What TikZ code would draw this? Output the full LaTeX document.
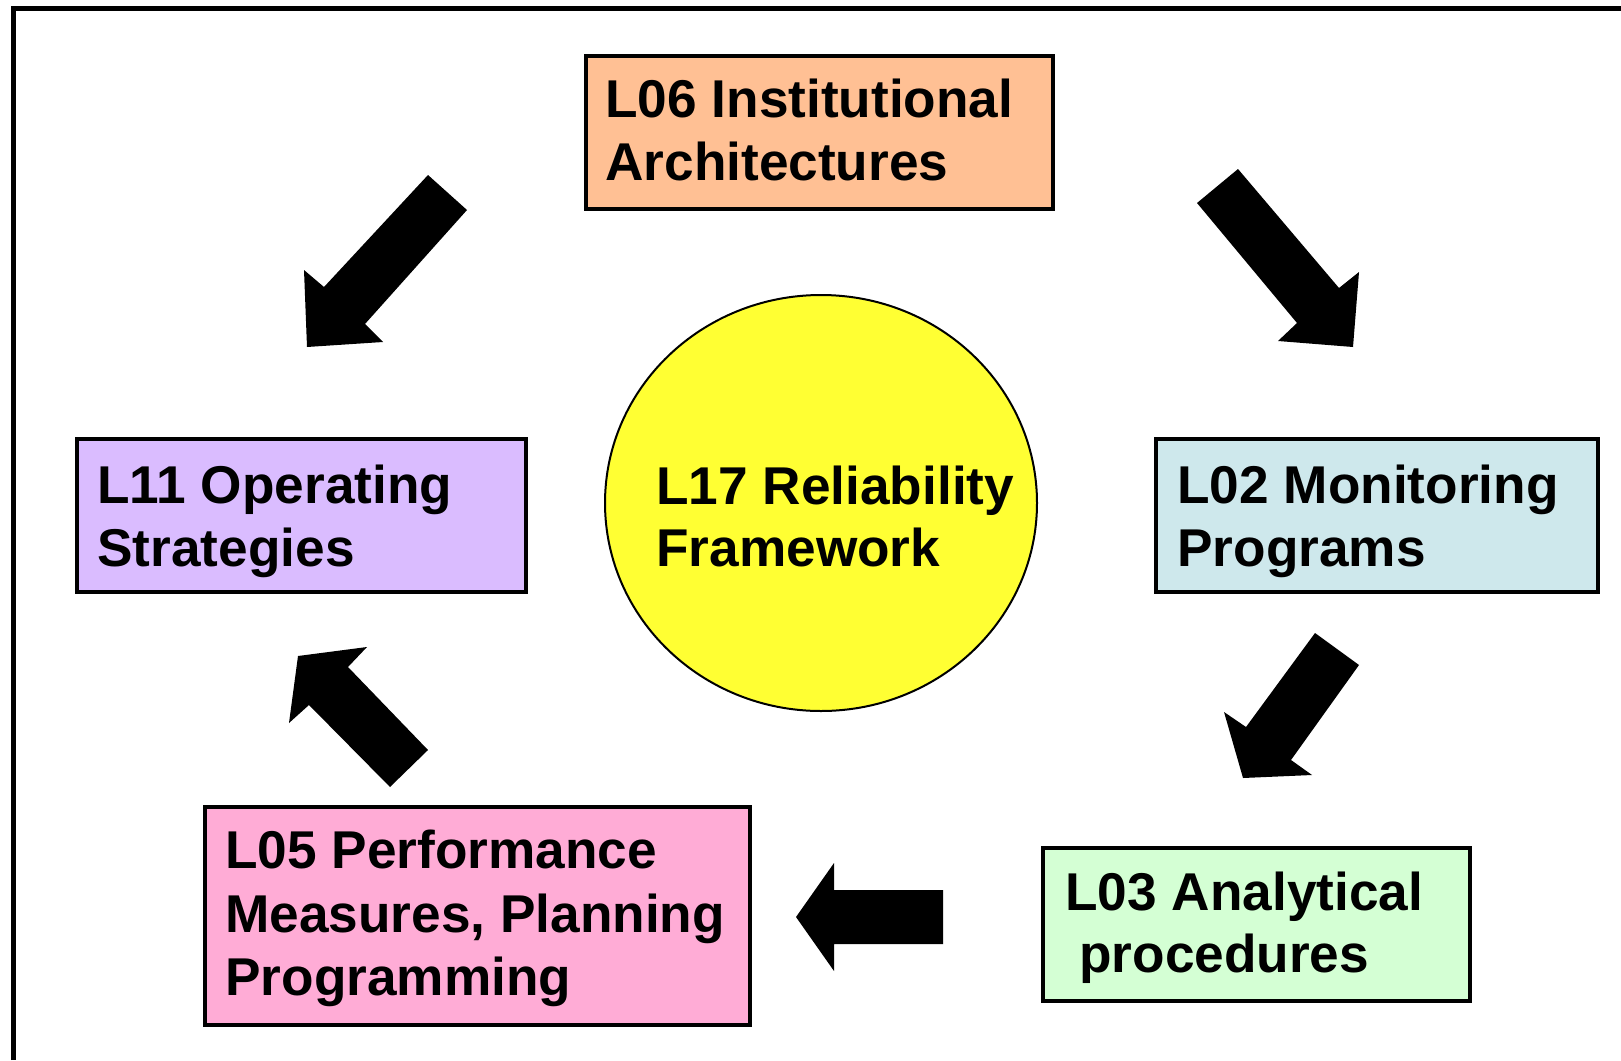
\documentclass[tikz,border=0pt]{standalone}
\usepackage{fontspec}
\setmainfont{Liberation Sans}
\usetikzlibrary{shapes.geometric}
\begin{document}
\begin{tikzpicture}[x=0.5pt,y=-0.5pt,
  boxstyle/.style={draw=black,line width=2pt,rectangle,inner sep=0pt},
  lbl/.style={anchor=base west,inner sep=0pt,font=\bfseries\fontsize{26.6}{31.5}\selectfont},
  blockarrow/.style={fill=black,draw=none}]
\definecolor{c06}{RGB}{255,192,148}
\definecolor{c11}{RGB}{218,188,255}
\definecolor{c02}{RGB}{206,232,236}
\definecolor{c03}{RGB}{212,255,212}
\definecolor{c05}{RGB}{255,172,214}
\definecolor{c17}{RGB}{255,255,51}
\useasboundingbox (0,0) rectangle (1621,1060);
% frame
\draw[line width=2.5pt] (13.5,1060) -- (13.5,8) -- (1621,8);
% boxes
\node[boxstyle,fill=c06,minimum width=233.5pt,minimum height=76.5pt] (b06) at (819.5,132.5) {};
\node[boxstyle,fill=c11,minimum width=224.75pt,minimum height=76.5pt] (b11) at (301.25,515.5) {};
\node[boxstyle,fill=c02,minimum width=221pt,minimum height=76.5pt] (b02) at (1377,515.5) {};
\node[boxstyle,fill=c03,minimum width=213.5pt,minimum height=76.5pt] (b03) at (1256.5,924.5) {};
\node[boxstyle,fill=c05,minimum width=272.25pt,minimum height=108.75pt] (b05) at (477.25,915.75) {};
\node[draw=black,line width=1pt,fill=c17,ellipse,minimum width=216pt,minimum height=208pt,inner sep=0pt] (c17) at (821,503) {};
% texts
\node[lbl] (t06a) at (605,117) {L06 Institutional};
\node[lbl] (t06b) at (605,180) {Architectures};
\node[lbl] (t11a) at (97,503) {L11 Operating};
\node[lbl] (t11b) at (97,566) {Strategies};
\node[lbl] (t02a) at (1177,503) {L02 Monitoring};
\node[lbl] (t02b) at (1177,566) {Programs};
\node[lbl] (t03a) at (1065,910) {L03 Analytical};
\node[lbl] (t03b) at (1079,972) {procedures};
\node[lbl] (t05a) at (225,868) {L05 Performance};
\node[lbl] (t05b) at (225,932) {Measures, Planning};
\node[lbl] (t05c) at (225,995) {Programming};
\node[lbl] (t17a) at (656,504) {L17 Reliability};
\node[lbl] (t17b) at (656,566) {Framework};
% block arrows
\fill[blockarrow] (428,175) -- (467,210) -- (365,324) -- (383,342) -- (307,347) -- (304,270) -- (324,287) -- cycle;
\fill[blockarrow] (1238,169) -- (1197,203) -- (1297,323) -- (1278,341) -- (1353,347) -- (1359,272) -- (1339,288) -- cycle;
\fill[blockarrow] (1315,633) -- (1359,665) -- (1291,760) -- (1312,775) -- (1243,778) -- (1224,712) -- (1246,727) -- cycle;
\fill[blockarrow] (943,890) -- (943,944) -- (834,944) -- (834,971) -- (796,917) -- (834,863) -- (834,890) -- cycle;
\fill[blockarrow] (390,787) -- (428,750) -- (348,667) -- (367,647) -- (298,656) -- (289,723) -- (309,705) -- cycle;
\end{tikzpicture}
\end{document}
